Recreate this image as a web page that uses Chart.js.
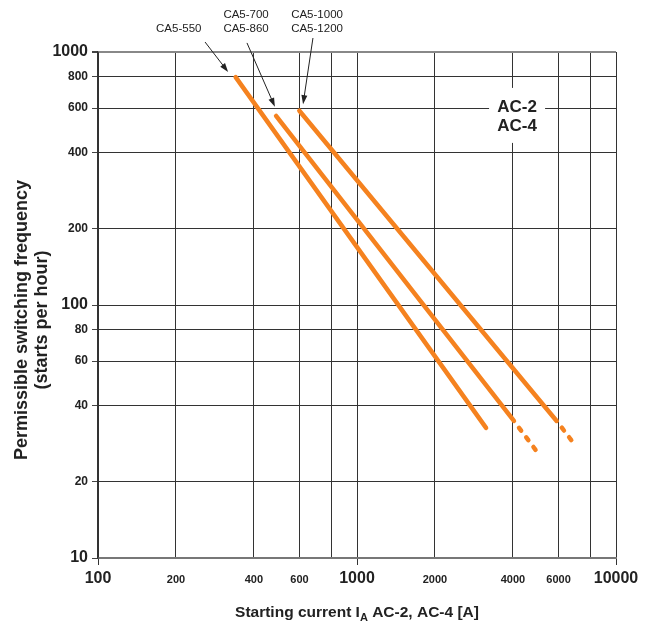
<!DOCTYPE html>
<html>
<head>
<meta charset="utf-8">
<script src="https://cdn.jsdelivr.net/npm/chart.js@4.4.1/dist/chart.umd.min.js"></script>
<style>
  html, body { margin: 0; padding: 0; background: #fff; }
  canvas { display: block; }
</style>
</head>
<body>
<canvas id="c" width="657" height="625"></canvas>
<script>
// ---- data ----
const xTickValues = [100, 200, 400, 600, 800, 1000, 2000, 4000, 6000, 8000, 10000];
const xTickLabels = ['100', '200', '400', '600', '', '1000', '2000', '4000', '6000', '', '10000'];
const yTickValues = [10, 20, 40, 60, 80, 100, 200, 400, 600, 800, 1000];
const yTickLabels = ['10', '20', '40', '60', '80', '100', '200', '400', '600', '800', '1000'];

const current550 = [340, 3150];
const freq550 = [796, 32.7];
const current700 = [487, 4036, 4900];
const freq700 = [559, 34.8, 26.7];
const current1000 = [599, 5900, 6745];
const freq1000 = [586, 34.8, 29.1];

// annotation labels: text lines, text anchor, arrow start, arrow tip (data coords)
const annLabels = [
  { lines: ['CA5-550'], at: [205, 1233], from: [259, 1095], to: [318, 834] },
  { lines: ['CA5-700', 'CA5-860'], at: [373, 1400], from: [376, 1086], to: [482, 607] },
  { lines: ['CA5-1000', 'CA5-1200'], at: [701, 1400], from: [676, 1136], to: [619, 622] }
];
const modeLabel = { lines: ['AC-2', 'AC-4'], at: [4150, 559] };

const ORANGE = '#F5821F';
const FONT = '"Liberation Sans", Arial, Helvetica, sans-serif';

function pts(xs, ys) { return xs.map((x, i) => ({ x: x, y: ys[i] })); }
const isMajor = v => Math.abs(Math.log10(v) - Math.round(Math.log10(v))) < 1e-9;

const lineDs = (label, data) => ({
  label: label,
  data: data,
  borderColor: ORANGE,
  borderWidth: 4.5,
  borderCapStyle: 'round',
  pointRadius: 0,
  fill: false,
  segment: {
    borderDash: ctx => ctx.p1DataIndex >= 2 ? [3.5, 8.5] : undefined,
    borderDashOffset: ctx => ctx.p1DataIndex >= 2 ? 3.5 : 0
  }
});

const annotPlugin = {
  id: 'annot',
  afterDatasetsDraw(chart) {
    const c = chart.ctx;
    const xs = chart.scales.x, ys = chart.scales.y;
    const P = (d) => [xs.getPixelForValue(d[0]), ys.getPixelForValue(d[1])];
    c.save();
    // Mode box
    const m = P(modeLabel.at);
    c.fillStyle = '#fff';
    c.fillRect(m[0] - 28, m[1] - 28, 56, 55);
    c.fillStyle = '#222';
    c.font = 'bold 17px ' + FONT;
    c.textAlign = 'center';
    c.textBaseline = 'middle';
    c.fillText(modeLabel.lines[0], m[0], m[1] - 9);
    c.fillText(modeLabel.lines[1], m[0], m[1] + 10);

    // Series labels with arrows
    c.font = '11.5px ' + FONT;
    annLabels.forEach(a => {
      const p = P(a.at);
      const n = a.lines.length;
      a.lines.forEach((t, i) => {
        c.fillText(t, p[0], p[1] + (i - (n - 1)) * 14 + (n === 1 ? 0 : 14));
      });
      const s = P(a.from), e = P(a.to);
      const ang = Math.atan2(e[1] - s[1], e[0] - s[0]);
      const hl = 9, hw = 3;
      c.strokeStyle = '#222';
      c.lineWidth = 1;
      c.beginPath();
      c.moveTo(s[0], s[1]);
      c.lineTo(e[0] - Math.cos(ang) * hl * 0.8, e[1] - Math.sin(ang) * hl * 0.8);
      c.stroke();
      c.beginPath();
      c.moveTo(e[0], e[1]);
      c.lineTo(e[0] - Math.cos(ang) * hl - Math.sin(ang) * hw, e[1] - Math.sin(ang) * hl + Math.cos(ang) * hw);
      c.lineTo(e[0] - Math.cos(ang) * hl + Math.sin(ang) * hw, e[1] - Math.sin(ang) * hl - Math.cos(ang) * hw);
      c.closePath();
      c.fillStyle = '#222';
      c.fill();
    });

    // Axis titles
    const ca = chart.chartArea;
    c.fillStyle = '#222';
    const big = 'bold 15.5px ' + FONT, small = 'bold 11px ' + FONT;
    c.textBaseline = 'alphabetic';
    const t1 = 'Starting current I', sub = 'A', t2 = ' AC-2, AC-4 [A]';
    c.font = big;
    const w1 = c.measureText(t1).width, w3 = c.measureText(t2).width;
    c.font = small;
    const w2 = c.measureText(sub).width;
    const total = w1 + w2 + w3;
    let x0 = (ca.left + ca.right) / 2 - total / 2;
    const yb = ca.bottom + 59;
    c.textAlign = 'left';
    c.font = big;
    c.fillText(t1, x0, yb);
    c.font = small;
    c.fillText(sub, x0 + w1, yb + 4);
    c.font = big;
    c.fillText(t2, x0 + w1 + w2, yb);

    c.translate(22, 320);
    c.rotate(-Math.PI / 2);
    c.textAlign = 'center';
    c.textBaseline = 'middle';
    c.font = 'bold 18px ' + FONT;
    c.fillText('Permissible switching frequency', 0, 0);
    c.fillText('(starts per hour)', 0, 20);
    c.restore();
  }
};

new Chart(document.getElementById('c'), {
  type: 'line',
  data: {
    datasets: [
      lineDs('CA5-550', pts(current550, freq550)),
      lineDs('CA5-700 / CA5-860', pts(current700, freq700)),
      lineDs('CA5-1000 / CA5-1200', pts(current1000, freq1000))
    ]
  },
  options: {
    responsive: false,
    animation: false,
    layout: { padding: { top: 52, right: 41, left: 0, bottom: 0 } },
    plugins: { legend: { display: false }, tooltip: { enabled: false } },
    scales: {
      x: {
        type: 'logarithmic',
        min: 100, max: 10000,
        afterBuildTicks: s => { s.ticks = xTickValues.map(v => ({ value: v })); },
        afterFit: s => { s.height = 67; },
        grid: {
          color: '#333',
          lineWidth: 1,
          tickLength: 7,
          tickColor: ctx => (ctx.tick && isMajor(ctx.tick.value)) ? '#333' : 'rgba(0,0,0,0)'
        },
        border: { color: '#777', width: 2 },
        ticks: {
          autoSkip: false,
          maxRotation: 0,
          padding: 4,
          color: '#222',
          callback: (v, i) => xTickLabels[i],
          font: ctx => (ctx.tick && isMajor(ctx.tick.value))
            ? { family: FONT, size: 16, weight: 'bold', lineHeight: 1.2 }
            : { family: FONT, size: 11, weight: 'bold', lineHeight: 2 }
        }
      },
      y: {
        type: 'logarithmic',
        min: 10, max: 1000,
        afterBuildTicks: s => { s.ticks = yTickValues.map(v => ({ value: v })); },
        afterFit: s => { s.width = 98; },
        grid: {
          color: ctx => (ctx.tick && ctx.tick.value === 1000) ? '#888' : '#333',
          lineWidth: ctx => (ctx.tick && ctx.tick.value === 1000) ? 2 : 1,
          tickLength: 6,
          tickColor: '#444'
        },
        border: { color: '#333', width: 1.5 },
        ticks: {
          autoSkip: false,
          padding: 4,
          color: '#222',
          callback: (v, i) => yTickLabels[i],
          font: ctx => (ctx.tick && isMajor(ctx.tick.value))
            ? { family: FONT, size: 16, weight: 'bold' }
            : { family: FONT, size: 12, weight: 'bold' }
        }
      }
    }
  },
  plugins: [annotPlugin]
});
</script>
</body>
</html>
